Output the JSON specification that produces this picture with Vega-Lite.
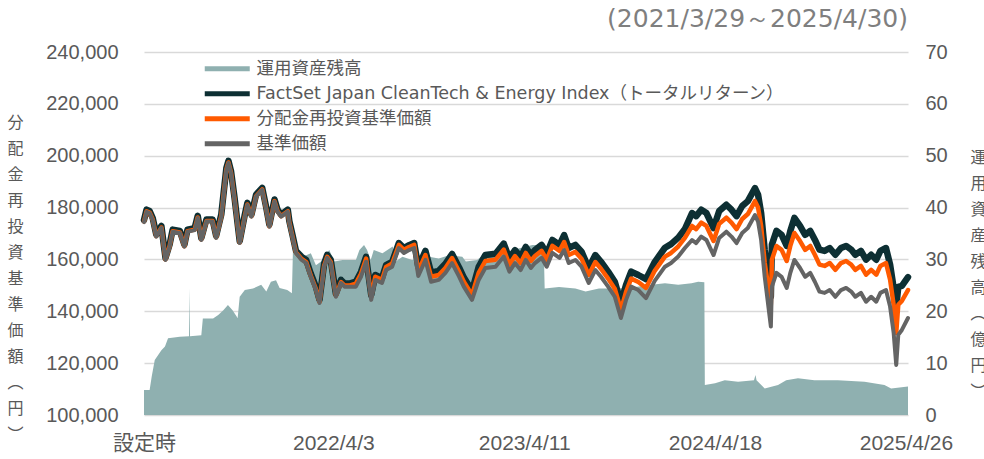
{
  "$schema": "https://vega.github.io/schema/vega-lite/v6.json",
  "autosize": "none",
  "width": 764,
  "height": 363,
  "padding": {"left": 144, "top": 52, "right": 76, "bottom": 44},
  "background": "white",
  "title": {"text": "(2021/3/29～2025/4/30)", "anchor": "end", "frame": "group", "orient": "top", "offset": 10, "font": "DejaVu Sans", "fontSize": 25, "fontWeight": "normal", "color": "#7f7f7f"},
  "config": {"view": {"stroke": null}},
  "datasets": {
    "aum": [
      {"date": "2021-03-29", "aum": 4.8}, {"date": "2021-04-09", "aum": 4.8}, {"date": "2021-04-13", "aum": 7.4}, {"date": "2021-04-19", "aum": 10.6},
      {"date": "2021-05-02", "aum": 12.5}, {"date": "2021-05-09", "aum": 13.2}, {"date": "2021-05-15", "aum": 14.8}, {"date": "2021-06-07", "aum": 15.1},
      {"date": "2021-06-25", "aum": 15.2}, {"date": "2021-06-26", "aum": 24.5}, {"date": "2021-06-27", "aum": 15.2}, {"date": "2021-07-19", "aum": 15.4},
      {"date": "2021-07-22", "aum": 18.6}, {"date": "2021-08-11", "aum": 18.6}, {"date": "2021-08-21", "aum": 19.3}, {"date": "2021-08-31", "aum": 20.2},
      {"date": "2021-09-09", "aum": 21.2}, {"date": "2021-09-18", "aum": 20.2}, {"date": "2021-09-28", "aum": 18.7}, {"date": "2021-10-02", "aum": 22.8},
      {"date": "2021-10-12", "aum": 24.1}, {"date": "2021-10-28", "aum": 24.4}, {"date": "2021-11-13", "aum": 25.1}, {"date": "2021-11-23", "aum": 23.8},
      {"date": "2021-12-02", "aum": 25.7}, {"date": "2021-12-12", "aum": 26.0}, {"date": "2021-12-19", "aum": 24.5}, {"date": "2022-01-03", "aum": 24.1},
      {"date": "2022-01-12", "aum": 23.5}, {"date": "2022-01-14", "aum": 31.5}, {"date": "2022-02-02", "aum": 30.5}, {"date": "2022-02-18", "aum": 31.2},
      {"date": "2022-02-28", "aum": 28.9}, {"date": "2022-03-10", "aum": 29.6}, {"date": "2022-03-26", "aum": 31.8}, {"date": "2022-04-05", "aum": 29.6},
      {"date": "2022-04-21", "aum": 29.9}, {"date": "2022-05-17", "aum": 29.9}, {"date": "2022-05-24", "aum": 31.8}, {"date": "2022-06-02", "aum": 32.8},
      {"date": "2022-06-08", "aum": 31.8}, {"date": "2022-06-15", "aum": 29.9}, {"date": "2022-06-21", "aum": 31.8}, {"date": "2022-07-08", "aum": 31.2},
      {"date": "2022-07-28", "aum": 32.5}, {"date": "2022-08-03", "aum": 29.6}, {"date": "2022-08-16", "aum": 30.5}, {"date": "2022-09-04", "aum": 29.9},
      {"date": "2022-10-07", "aum": 30.5}, {"date": "2022-10-26", "aum": 30.2}, {"date": "2022-11-15", "aum": 30.8}, {"date": "2022-12-11", "aum": 30.5},
      {"date": "2022-12-18", "aum": 29.6}, {"date": "2023-01-09", "aum": 29.9}, {"date": "2023-01-25", "aum": 31.2}, {"date": "2023-02-27", "aum": 31.2},
      {"date": "2023-03-31", "aum": 32.1}, {"date": "2023-04-27", "aum": 32.8}, {"date": "2023-05-19", "aum": 32.8}, {"date": "2023-05-21", "aum": 24.4},
      {"date": "2023-06-18", "aum": 24.7}, {"date": "2023-07-20", "aum": 24.4}, {"date": "2023-08-09", "aum": 23.8}, {"date": "2023-09-04", "aum": 24.4},
      {"date": "2023-10-12", "aum": 24.4}, {"date": "2023-11-14", "aum": 24.7}, {"date": "2023-12-16", "aum": 25.1}, {"date": "2024-01-11", "aum": 25.4},
      {"date": "2024-02-06", "aum": 25.1}, {"date": "2024-03-03", "aum": 25.4}, {"date": "2024-03-16", "aum": 25.7}, {"date": "2024-03-28", "aum": 25.6},
      {"date": "2024-03-29", "aum": 5.8}, {"date": "2024-04-18", "aum": 6.1}, {"date": "2024-05-07", "aum": 6.7}, {"date": "2024-06-02", "aum": 6.4},
      {"date": "2024-07-03", "aum": 6.7}, {"date": "2024-07-06", "aum": 7.7}, {"date": "2024-07-08", "aum": 6.7}, {"date": "2024-07-24", "aum": 5.1},
      {"date": "2024-08-19", "aum": 5.8}, {"date": "2024-09-04", "aum": 6.7}, {"date": "2024-09-27", "aum": 7.1}, {"date": "2024-10-29", "aum": 6.7},
      {"date": "2024-12-14", "aum": 6.7}, {"date": "2025-02-04", "aum": 6.4}, {"date": "2025-03-15", "aum": 5.8}, {"date": "2025-03-28", "aum": 5.1},
      {"date": "2025-04-30", "aum": 5.5}
    ],
    "fund": [
      {"date": "2021-03-29", "nav": 174400, "reinv": 174600, "idx": 175200},
      {"date": "2021-04-03", "nav": 178400, "reinv": 178600, "idx": 179200},
      {"date": "2021-04-09", "nav": 177900, "reinv": 178100, "idx": 178700},
      {"date": "2021-04-15", "nav": 175200, "reinv": 175400, "idx": 176000},
      {"date": "2021-04-22", "nav": 168800, "reinv": 169000, "idx": 169600},
      {"date": "2021-05-02", "nav": 172100, "reinv": 172300, "idx": 172900},
      {"date": "2021-05-10", "nav": 159800, "reinv": 160000, "idx": 160600},
      {"date": "2021-05-18", "nav": 164900, "reinv": 165100, "idx": 165700},
      {"date": "2021-05-24", "nav": 170700, "reinv": 170900, "idx": 171500},
      {"date": "2021-06-07", "nav": 170200, "reinv": 170400, "idx": 171000},
      {"date": "2021-06-16", "nav": 164900, "reinv": 165100, "idx": 165700},
      {"date": "2021-06-22", "nav": 170700, "reinv": 170900, "idx": 171500},
      {"date": "2021-07-06", "nav": 171300, "reinv": 171500, "idx": 172100},
      {"date": "2021-07-12", "nav": 176000, "reinv": 176200, "idx": 176800},
      {"date": "2021-07-19", "nav": 167500, "reinv": 167700, "idx": 168300},
      {"date": "2021-07-29", "nav": 174600, "reinv": 174800, "idx": 175400},
      {"date": "2021-08-10", "nav": 174600, "reinv": 174800, "idx": 175400},
      {"date": "2021-08-17", "nav": 168300, "reinv": 168500, "idx": 169100},
      {"date": "2021-08-27", "nav": 176500, "reinv": 176700, "idx": 177300},
      {"date": "2021-09-06", "nav": 194500, "reinv": 194700, "idx": 195300},
      {"date": "2021-09-10", "nav": 197200, "reinv": 197400, "idx": 198000},
      {"date": "2021-09-15", "nav": 193300, "reinv": 193500, "idx": 194100},
      {"date": "2021-09-22", "nav": 182900, "reinv": 183100, "idx": 183700},
      {"date": "2021-10-02", "nav": 166300, "reinv": 166500, "idx": 167100},
      {"date": "2021-10-12", "nav": 176500, "reinv": 176700, "idx": 177300},
      {"date": "2021-10-17", "nav": 181000, "reinv": 181200, "idx": 181800},
      {"date": "2021-10-25", "nav": 176500, "reinv": 176700, "idx": 177300},
      {"date": "2021-11-03", "nav": 184200, "reinv": 184400, "idx": 185000},
      {"date": "2021-11-15", "nav": 186800, "reinv": 187000, "idx": 187600},
      {"date": "2021-11-23", "nav": 179100, "reinv": 179300, "idx": 179900},
      {"date": "2021-11-29", "nav": 172600, "reinv": 172800, "idx": 173400},
      {"date": "2021-12-09", "nav": 182300, "reinv": 182500, "idx": 183100},
      {"date": "2021-12-15", "nav": 178400, "reinv": 178600, "idx": 179200},
      {"date": "2021-12-22", "nav": 176500, "reinv": 176700, "idx": 177300},
      {"date": "2022-01-04", "nav": 178400, "reinv": 178600, "idx": 179200},
      {"date": "2022-01-07", "nav": 174000, "reinv": 174200, "idx": 174800},
      {"date": "2022-01-13", "nav": 168800, "reinv": 169000, "idx": 169600},
      {"date": "2022-01-20", "nav": 162500, "reinv": 162700, "idx": 163300},
      {"date": "2022-01-31", "nav": 159800, "reinv": 160200, "idx": 161000},
      {"date": "2022-02-09", "nav": 158600, "reinv": 159000, "idx": 159800},
      {"date": "2022-02-18", "nav": 153300, "reinv": 153700, "idx": 154500},
      {"date": "2022-02-28", "nav": 148200, "reinv": 148600, "idx": 149400},
      {"date": "2022-03-07", "nav": 143200, "reinv": 143600, "idx": 144400},
      {"date": "2022-03-16", "nav": 157200, "reinv": 157600, "idx": 158400},
      {"date": "2022-03-22", "nav": 160600, "reinv": 161000, "idx": 161800},
      {"date": "2022-03-29", "nav": 158600, "reinv": 159000, "idx": 159800},
      {"date": "2022-04-08", "nav": 145600, "reinv": 146000, "idx": 146800},
      {"date": "2022-04-18", "nav": 150900, "reinv": 151300, "idx": 152100},
      {"date": "2022-04-25", "nav": 149500, "reinv": 149900, "idx": 150700},
      {"date": "2022-05-04", "nav": 149500, "reinv": 149900, "idx": 150700},
      {"date": "2022-05-17", "nav": 149500, "reinv": 150700, "idx": 151400},
      {"date": "2022-05-27", "nav": 153300, "reinv": 154500, "idx": 155200},
      {"date": "2022-06-06", "nav": 159100, "reinv": 160300, "idx": 161000},
      {"date": "2022-06-16", "nav": 144400, "reinv": 145600, "idx": 146300},
      {"date": "2022-06-24", "nav": 152100, "reinv": 153300, "idx": 154000},
      {"date": "2022-07-07", "nav": 150900, "reinv": 152100, "idx": 152800},
      {"date": "2022-07-15", "nav": 155900, "reinv": 157100, "idx": 157800},
      {"date": "2022-07-27", "nav": 157200, "reinv": 158400, "idx": 159100},
      {"date": "2022-08-09", "nav": 164400, "reinv": 165600, "idx": 166300},
      {"date": "2022-08-19", "nav": 162500, "reinv": 163700, "idx": 164400},
      {"date": "2022-08-29", "nav": 163600, "reinv": 164800, "idx": 165500},
      {"date": "2022-09-08", "nav": 164400, "reinv": 165600, "idx": 166300},
      {"date": "2022-09-16", "nav": 153600, "reinv": 155500, "idx": 157100},
      {"date": "2022-09-30", "nav": 159800, "reinv": 161700, "idx": 163300},
      {"date": "2022-10-11", "nav": 151400, "reinv": 153300, "idx": 154900},
      {"date": "2022-10-26", "nav": 152100, "reinv": 154000, "idx": 155600},
      {"date": "2022-11-08", "nav": 154800, "reinv": 156700, "idx": 158300},
      {"date": "2022-11-21", "nav": 158600, "reinv": 160500, "idx": 162100},
      {"date": "2022-12-05", "nav": 153300, "reinv": 155200, "idx": 156800},
      {"date": "2022-12-14", "nav": 149500, "reinv": 151400, "idx": 153000},
      {"date": "2022-12-30", "nav": 144400, "reinv": 146300, "idx": 147900},
      {"date": "2023-01-12", "nav": 152100, "reinv": 154800, "idx": 157100},
      {"date": "2023-01-25", "nav": 156700, "reinv": 159400, "idx": 161700},
      {"date": "2023-02-14", "nav": 157200, "reinv": 159900, "idx": 162200},
      {"date": "2023-03-02", "nav": 161100, "reinv": 163800, "idx": 166100},
      {"date": "2023-03-13", "nav": 155300, "reinv": 158000, "idx": 160300},
      {"date": "2023-03-24", "nav": 158600, "reinv": 161300, "idx": 163600},
      {"date": "2023-04-04", "nav": 155900, "reinv": 158600, "idx": 160900},
      {"date": "2023-04-14", "nav": 159800, "reinv": 162500, "idx": 164800},
      {"date": "2023-04-24", "nav": 156700, "reinv": 159400, "idx": 161700},
      {"date": "2023-05-02", "nav": 158600, "reinv": 161300, "idx": 163600},
      {"date": "2023-05-15", "nav": 160600, "reinv": 163300, "idx": 165600},
      {"date": "2023-05-25", "nav": 157200, "reinv": 159900, "idx": 162200},
      {"date": "2023-06-05", "nav": 162500, "reinv": 165200, "idx": 167500},
      {"date": "2023-06-19", "nav": 160600, "reinv": 163300, "idx": 165600},
      {"date": "2023-06-28", "nav": 163600, "reinv": 166700, "idx": 169400},
      {"date": "2023-07-07", "nav": 158600, "reinv": 161700, "idx": 164400},
      {"date": "2023-07-20", "nav": 159800, "reinv": 162900, "idx": 165600},
      {"date": "2023-08-01", "nav": 157200, "reinv": 160300, "idx": 163000},
      {"date": "2023-08-15", "nav": 150900, "reinv": 154000, "idx": 156700},
      {"date": "2023-08-28", "nav": 155900, "reinv": 159000, "idx": 161700},
      {"date": "2023-09-08", "nav": 153300, "reinv": 156400, "idx": 159100},
      {"date": "2023-09-22", "nav": 149500, "reinv": 152600, "idx": 155300},
      {"date": "2023-10-05", "nav": 145600, "reinv": 148700, "idx": 151400},
      {"date": "2023-10-17", "nav": 137400, "reinv": 140500, "idx": 143200},
      {"date": "2023-10-27", "nav": 144400, "reinv": 147500, "idx": 150200},
      {"date": "2023-11-06", "nav": 149500, "reinv": 152600, "idx": 155300},
      {"date": "2023-11-20", "nav": 148200, "reinv": 151300, "idx": 154000},
      {"date": "2023-12-05", "nav": 145100, "reinv": 149000, "idx": 152400},
      {"date": "2023-12-22", "nav": 151700, "reinv": 155600, "idx": 159000},
      {"date": "2024-01-11", "nav": 157200, "reinv": 161100, "idx": 164500},
      {"date": "2024-01-23", "nav": 158600, "reinv": 162500, "idx": 165900},
      {"date": "2024-02-06", "nav": 161100, "reinv": 165000, "idx": 168400},
      {"date": "2024-02-19", "nav": 164400, "reinv": 168300, "idx": 171700},
      {"date": "2024-03-04", "nav": 167500, "reinv": 172900, "idx": 177900},
      {"date": "2024-03-12", "nav": 166300, "reinv": 171700, "idx": 176700},
      {"date": "2024-03-22", "nav": 168800, "reinv": 174200, "idx": 179200},
      {"date": "2024-04-01", "nav": 167500, "reinv": 172900, "idx": 177900},
      {"date": "2024-04-15", "nav": 161700, "reinv": 167100, "idx": 172100},
      {"date": "2024-04-26", "nav": 168300, "reinv": 173700, "idx": 178700},
      {"date": "2024-05-10", "nav": 170700, "reinv": 176100, "idx": 181100},
      {"date": "2024-05-20", "nav": 168800, "reinv": 174200, "idx": 179200},
      {"date": "2024-05-30", "nav": 166300, "reinv": 171700, "idx": 176700},
      {"date": "2024-06-10", "nav": 170200, "reinv": 175600, "idx": 180600},
      {"date": "2024-06-21", "nav": 172100, "reinv": 177500, "idx": 182500},
      {"date": "2024-07-05", "nav": 177100, "reinv": 182500, "idx": 187500},
      {"date": "2024-07-11", "nav": 174600, "reinv": 180000, "idx": 185000},
      {"date": "2024-07-17", "nav": 167500, "reinv": 172900, "idx": 177900},
      {"date": "2024-07-24", "nav": 153300, "reinv": 158700, "idx": 163700},
      {"date": "2024-08-05", "nav": 134100, "reinv": 142600, "idx": 145700},
      {"date": "2024-08-07", "nav": 149500, "reinv": 159900, "idx": 165700},
      {"date": "2024-08-16", "nav": 154800, "reinv": 165200, "idx": 171000},
      {"date": "2024-08-26", "nav": 153300, "reinv": 163700, "idx": 169500},
      {"date": "2024-09-05", "nav": 149000, "reinv": 159400, "idx": 165200},
      {"date": "2024-09-12", "nav": 154800, "reinv": 165200, "idx": 171000},
      {"date": "2024-09-20", "nav": 159800, "reinv": 170200, "idx": 176000},
      {"date": "2024-10-01", "nav": 156700, "reinv": 167100, "idx": 172900},
      {"date": "2024-10-11", "nav": 153300, "reinv": 163700, "idx": 169500},
      {"date": "2024-10-21", "nav": 154800, "reinv": 165200, "idx": 171000},
      {"date": "2024-10-30", "nav": 151400, "reinv": 161800, "idx": 167600},
      {"date": "2024-11-08", "nav": 147600, "reinv": 158000, "idx": 163800},
      {"date": "2024-11-18", "nav": 147100, "reinv": 157500, "idx": 163300},
      {"date": "2024-11-28", "nav": 148200, "reinv": 158600, "idx": 164400},
      {"date": "2024-12-09", "nav": 145600, "reinv": 156000, "idx": 161800},
      {"date": "2024-12-20", "nav": 148200, "reinv": 158600, "idx": 164400},
      {"date": "2024-12-30", "nav": 149000, "reinv": 159400, "idx": 165200},
      {"date": "2025-01-09", "nav": 147600, "reinv": 158000, "idx": 163800},
      {"date": "2025-01-17", "nav": 145600, "reinv": 156000, "idx": 161800},
      {"date": "2025-01-28", "nav": 147100, "reinv": 157500, "idx": 163300},
      {"date": "2025-02-07", "nav": 143700, "reinv": 154100, "idx": 159900},
      {"date": "2025-02-17", "nav": 145600, "reinv": 156000, "idx": 161800},
      {"date": "2025-02-27", "nav": 143700, "reinv": 154100, "idx": 159900},
      {"date": "2025-03-07", "nav": 147100, "reinv": 157500, "idx": 163300},
      {"date": "2025-03-18", "nav": 148200, "reinv": 158600, "idx": 164400},
      {"date": "2025-03-26", "nav": 141800, "reinv": 152200, "idx": 158000},
      {"date": "2025-04-02", "nav": 131600, "reinv": 142400, "idx": 149000},
      {"date": "2025-04-07", "nav": 119300, "reinv": 131600, "idx": 141700},
      {"date": "2025-04-11", "nav": 130900, "reinv": 142500, "idx": 149400},
      {"date": "2025-04-18", "nav": 132800, "reinv": 144000, "idx": 149800},
      {"date": "2025-04-30", "nav": 137400, "reinv": 148200, "idx": 153200}
    ]
  },
  "encoding": {
    "x": {
      "field": "date", "type": "temporal",
      "scale": {"type": "utc", "domain": [{"year": 2021, "month": 3, "date": 29, "utc": true}, {"year": 2025, "month": 4, "date": 30, "utc": true}]},
      "axis": {
        "values": [{"year": 2021, "month": 3, "date": 29, "utc": true}, {"year": 2022, "month": 4, "date": 3, "utc": true}, {"year": 2023, "month": 4, "date": 11, "utc": true}, {"year": 2024, "month": 4, "date": 18, "utc": true}, {"year": 2025, "month": 4, "date": 26, "utc": true}],
        "labelExpr": "datum.value < 1617062400000 ? '設定時' : utcFormat(datum.value, '%Y/%-m/%-d')",
        "labelFont": "Liberation Sans, Noto Sans CJK JP, sans-serif", "labelFontSize": 21, "labelColor": "#595959",
        "labelPadding": 17, "domain": false, "ticks": false, "grid": false, "title": null,
        "labelOverlap": false, "labelBound": false, "labelFlush": false
      }
    }
  },
  "layer": [
    {
      "data": {"name": "aum"},
      "mark": {"type": "area", "interpolate": "linear", "opacity": 1},
      "encoding": {
        "y": {
          "field": "aum", "type": "quantitative",
          "scale": {"domain": [0, 70], "nice": false, "zero": true},
          "axis": {
            "orient": "right", "values": [0, 10, 20, 30, 40, 50, 60, 70], "grid": false, "domain": false, "ticks": false,
            "labelFont": "Liberation Sans, sans-serif", "labelFontSize": 20, "labelColor": "#595959", "labelPadding": 17,
            "title": ["運", "用", "資", "産", "残", "高", "︵", "億", "円", "︶"],
            "titleAngle": 0, "titleFont": "Noto Sans CJK JP", "titleFontSize": 16, "titleFontWeight": "normal", "titleColor": "#595959",
            "titleLineHeight": 26, "titleX": 70, "titleY": 97, "titleAlign": "center", "titleBaseline": "top"
          }
        },
        "color": {
          "datum": "運用資産残高", "type": "nominal",
          "scale": {
            "domain": ["運用資産残高", "FactSet Japan CleanTech & Energy Index（トータルリターン）", "分配金再投資基準価額", "基準価額"],
            "range": ["#8fb0b0", "#0d2f33", "#ff5a00", "#646464"]
          },
          "legend": {
            "orient": "none", "legendX": 57, "legendY": 8, "title": null, "symbolType": "M-1,0H8", "symbolSize": 100, "symbolStrokeWidth": 5,
            "labelFont": "DejaVu Sans, Noto Sans CJK JP, sans-serif", "labelFontSize": 17.5, "labelColor": "#595959", "rowPadding": 4, "labelOffset": 38,
            "labelLimit": 800,
            "encoding": {
              "symbols": {
                "update": {
                  "strokeWidth": {"signal": "datum.value === '運用資産残高' ? 11 : 5"},
                  "stroke": {"scale": "color", "field": "value"},
                  "fill": {"value": "transparent"},
                  "strokeCap": {"signal": "datum.value === '運用資産残高' ? 'butt' : 'round'"}
                }
              }
            }
          }
        }
      }
    },
    {
      "data": {"name": "fund"},
      "layer": [
        {
          "mark": {"type": "line", "strokeWidth": 6.5, "strokeJoin": "round", "strokeCap": "round"},
          "encoding": {
            "y": {
              "field": "idx", "type": "quantitative",
              "scale": {"domain": [100000, 240000], "nice": false, "zero": false},
              "axis": {
                "orient": "left", "values": [100000, 120000, 140000, 160000, 180000, 200000, 220000, 240000], "format": ",d",
                "grid": true, "gridColor": "#d9d9d9", "gridWidth": 1.5, "domain": false, "ticks": false,
                "labelFont": "Liberation Sans, sans-serif", "labelFontSize": 20, "labelColor": "#595959", "labelPadding": 26,
                "title": ["分", "配", "金", "再", "投", "資", "基", "準", "価", "額", "︵", "円", "︶"],
                "titleAngle": 0, "titleFont": "Noto Sans CJK JP", "titleFontSize": 16, "titleFontWeight": "normal", "titleColor": "#595959",
                "titleLineHeight": 26, "titleX": -129, "titleY": 62, "titleAlign": "center", "titleBaseline": "top"
              }
            },
            "color": {"datum": "FactSet Japan CleanTech & Energy Index（トータルリターン）", "type": "nominal"}
          }
        },
        {
          "mark": {"type": "line", "strokeWidth": 4.5, "strokeJoin": "round", "strokeCap": "round"},
          "encoding": {
            "y": {
              "field": "reinv", "type": "quantitative",
              "scale": {"domain": [100000, 240000], "nice": false, "zero": false},
              "axis": {
                "orient": "left", "values": [100000, 120000, 140000, 160000, 180000, 200000, 220000, 240000], "format": ",d",
                "grid": true, "gridColor": "#d9d9d9", "gridWidth": 1.5, "domain": false, "ticks": false,
                "labelFont": "Liberation Sans, sans-serif", "labelFontSize": 20, "labelColor": "#595959", "labelPadding": 26,
                "title": ["分", "配", "金", "再", "投", "資", "基", "準", "価", "額", "︵", "円", "︶"],
                "titleAngle": 0, "titleFont": "Noto Sans CJK JP", "titleFontSize": 16, "titleFontWeight": "normal", "titleColor": "#595959",
                "titleLineHeight": 26, "titleX": -129, "titleY": 62, "titleAlign": "center", "titleBaseline": "top"
              }
            },
            "color": {"datum": "分配金再投資基準価額", "type": "nominal"}
          }
        },
        {
          "mark": {"type": "line", "strokeWidth": 4, "strokeJoin": "round", "strokeCap": "round"},
          "encoding": {
            "y": {
              "field": "nav", "type": "quantitative",
              "scale": {"domain": [100000, 240000], "nice": false, "zero": false},
              "axis": {
                "orient": "left", "values": [100000, 120000, 140000, 160000, 180000, 200000, 220000, 240000], "format": ",d",
                "grid": true, "gridColor": "#d9d9d9", "gridWidth": 1.5, "domain": false, "ticks": false,
                "labelFont": "Liberation Sans, sans-serif", "labelFontSize": 20, "labelColor": "#595959", "labelPadding": 26,
                "title": ["分", "配", "金", "再", "投", "資", "基", "準", "価", "額", "︵", "円", "︶"],
                "titleAngle": 0, "titleFont": "Noto Sans CJK JP", "titleFontSize": 16, "titleFontWeight": "normal", "titleColor": "#595959",
                "titleLineHeight": 26, "titleX": -129, "titleY": 62, "titleAlign": "center", "titleBaseline": "top"
              }
            },
            "color": {"datum": "基準価額", "type": "nominal"}
          }
        }
      ]
    }
  ],
  "resolve": {"scale": {"y": "independent"}}
}
